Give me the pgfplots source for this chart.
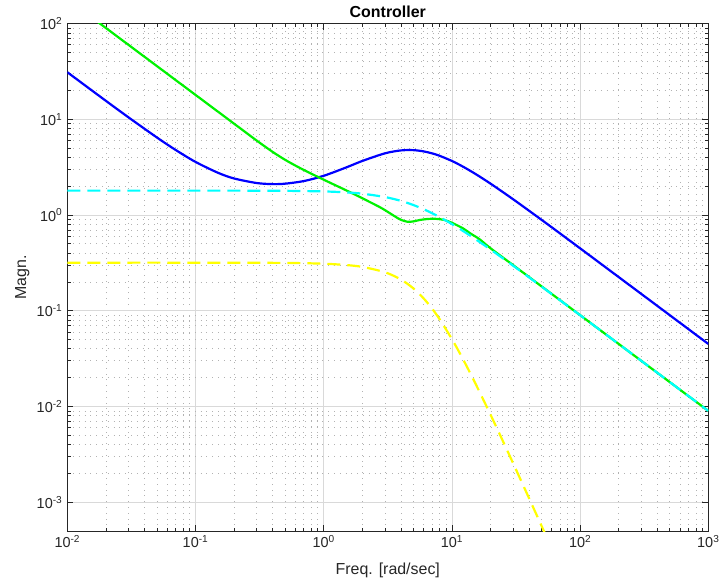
\documentclass[border=0pt]{standalone}
\usepackage{fontspec}
\setmainfont{Liberation Sans}
\usepackage{pgfplots}
\pgfplotsset{compat=1.18}
\definecolor{mblue}{rgb}{0,0,1}
\definecolor{mgreen}{rgb}{0,0.95,0}
\definecolor{mcyan}{rgb}{0,1,1}
\definecolor{myellow}{rgb}{1,1,0}
\begin{document}
\begin{tikzpicture}
\useasboundingbox (-67.3bp,-51bp) rectangle (651.7bp,531bp);
\begin{axis}[
  scale only axis, width=641bp, height=507.4bp,
  xmode=log, ymode=log,
  xmin=1e-2, xmax=1e3, ymin=5e-4, ymax=1e2,
  xtick={1e-2,1e-1,1,1e1,1e2,1e3},
  xticklabels={10\textsuperscript{-2},10\textsuperscript{-1},10\textsuperscript{0},10\textsuperscript{1},10\textsuperscript{2},10\textsuperscript{3}},
  ytick={1e-3,1e-2,1e-1,1,1e1,1e2},
  yticklabels={10\textsuperscript{-3},10\textsuperscript{-2},10\textsuperscript{-1},10\textsuperscript{0},10\textsuperscript{1},10\textsuperscript{2}},
  grid=both,
  major grid style={draw=black!15, line width=0.7bp},
  minor grid style={draw=black!30, line width=0.7bp, dash pattern=on 0.8bp off 5bp},
  axis line style={draw=black!85, line width=0.7bp},
  tick style={draw=black!85, line width=0.7bp},
  major tick length=6bp, minor tick length=3.5bp,
  tick label style={font=\fontsize{14.5}{16}\selectfont, text=black!85},
  xticklabel style={yshift=-1bp},
  yticklabel style={xshift=-1.5bp},
  every axis title shift=0pt,
  title={Controller},
  title style={font=\fontsize{16}{18}\selectfont\bfseries, at={(axis description cs:0.5,1)}, anchor=base, yshift=6.5bp},
  xlabel={Freq. [rad/sec]},
  xlabel style={font=\fontsize{16}{18}\selectfont, text=black!85, at={(axis description cs:0.5,0)}, anchor=base, yshift=-43bp},
  ylabel={Magn.},
  ylabel style={font=\fontsize{16}{18}\selectfont, text=black!85, at={(axis description cs:-0.0644,0.5)}, anchor=base},
  every axis plot/.append style={line width=2.2bp, smooth},
]
\addplot[mblue] coordinates {
(0.01,31.05) (0.02,15.60) (0.03,10.49) (0.05,6.46) (0.07,4.787) (0.1,3.59) (0.15,2.761) (0.2,2.41) (0.3,2.16) (0.4,2.105) (0.5,2.126) (0.7,2.264) (1,2.570) (1.5,3.144) (2,3.671) (3,4.410) (4,4.732) (5,4.763) (6,4.627) (7,4.410) (8,4.164) (10,3.674) (12,3.242) (15,2.727) (20,2.129) (30,1.463) (50,0.892) (70,0.640) (100,0.449) (200,0.2249) (500,0.0900) (1000,0.0450)
};
\addplot[mgreen] coordinates {
(0.01,180) (0.02,90) (0.05,36) (0.1,18) (0.2,9.0) (0.3,6.0) (0.4,4.565) (0.5,3.776) (0.6,3.293) (0.7,2.957) (0.8,2.704) (0.93,2.452) (1.114,2.184) (1.35,1.935) (1.6,1.736) (2,1.498) (2.73,1.212) (3.2,1.068) (3.6,0.966) (4,0.892) (4.5,0.851) (5,0.858) (5.6,0.887) (6.5,0.91) (7.33,0.914) (8,0.905) (8.77,0.887) (10,0.83) (12.2,0.726) (14,0.64) (16.4,0.56) (20,0.45) (30,0.30) (50,0.18) (100,0.090) (200,0.045) (500,0.018) (1000,0.009)
};
\addplot[mcyan, dash pattern=on 13bp off 7bp] coordinates {
(0.01,1.8) (0.1,1.7996) (0.3,1.797) (0.5,1.791) (1,1.765) (1.5,1.724) (2,1.671) (3,1.543) (4,1.406) (5,1.273) (6,1.152) (7,1.046) (8,0.954) (10,0.805) (12,0.692) (15,0.569) (20,0.4366) (30,0.296) (50,0.1791) (100,0.0899) (200,0.04499) (500,0.0180) (1000,0.0090)
};
\addplot[myellow, dash pattern=on 13bp off 7bp] coordinates {
(0.01,0.318) (0.1,0.318) (0.5,0.316) (1,0.310) (1.5,0.3002) (2,0.2871) (3,0.2527) (4,0.2121) (5,0.1715) (6,0.1352) (7,0.1054) (8,0.0820) (10,0.0506) (12,0.03257) (15,0.01820) (20,0.008222) (25,0.004345) (30,0.002558) (40,0.001098) (50,0.0005666) (60,0.0003293)
};
\end{axis}
\end{tikzpicture}
\end{document}
